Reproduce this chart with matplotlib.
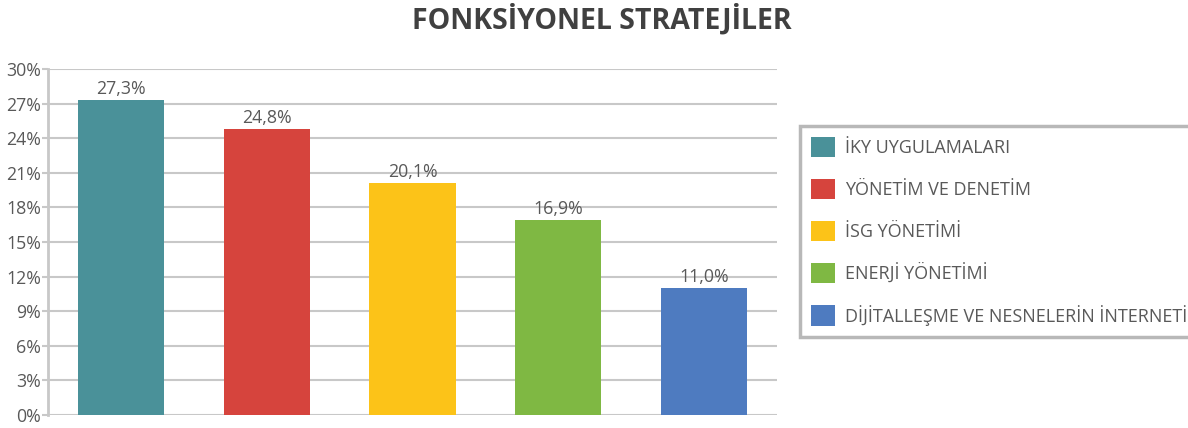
import matplotlib
matplotlib.use("Agg")
import matplotlib.pyplot as plt
from matplotlib.patches import Patch

categories = ["İKY UYGULAMALARI", "YÖNETİM VE DENETİM", "İSG YÖNETİMİ",
              "ENERJİ YÖNETİMİ", "DİJİTALLEŞME VE NESNELERİN İNTERNETİ"]
values = [27.3, 24.8, 20.1, 16.9, 11.0]
colors = ["#4A9199", "#D6443D", "#FCC318", "#7FB843", "#4E7BC0"]
yticks = [0, 3, 6, 9, 12, 15, 18, 21, 24, 27, 30]

plt.rcParams["font.family"] = ["Open Sans", "DejaVu Sans"]
text_color = "#595959"
grid_color = "#C8C8C8"

fig = plt.figure(figsize=(11.88, 4.28), dpi=100)
ax = fig.add_axes([48 / 1188, 13 / 428, (777 - 48) / 1188, (415 - 69) / 428])

x = list(range(len(values)))
bars = ax.bar(x, values, width=0.59, color=colors, zorder=3)
for b, v in zip(bars, values):
    ax.text(b.get_x() + b.get_width() / 2, v + 0.2, f"{v:.1f}%".replace(".", ","),
            ha="center", va="bottom", fontsize=12.8, color=text_color)

ax.set_xlim(-0.5, 4.5)
ax.set_ylim(0, 30)
ax.set_yticks(yticks)
ax.set_yticklabels([f"{t}%" for t in yticks], fontsize=12.8, color=text_color)
ax.set_xticks([])
ax.yaxis.grid(True, color=grid_color, linewidth=1.5, zorder=0)
ax.tick_params(axis="y", length=4, width=1.5, color=grid_color, pad=1)
for s in ["top", "right", "bottom"]:
    ax.spines[s].set_visible(False)
ax.spines["left"].set_color(grid_color)
ax.spines["left"].set_linewidth(2)

fig.suptitle("FONKSİYONEL STRATEJİLER", x=602 / 1188, y=0.99, fontsize=20.5,
             fontweight="bold", color="#404040")

handles = [Patch(facecolor=c, edgecolor="none") for c in colors]
leg = fig.legend(handles, categories, loc="upper left",
                 bbox_to_anchor=(800 / 1188, 1 - 126 / 428),
                 fontsize=13, frameon=True, fancybox=False,
                 handlelength=1.35, handleheight=1.35, labelspacing=1.2,
                 handletextpad=0.55, borderpad=0.6, borderaxespad=0)
for t in leg.get_texts():
    t.set_color(text_color)
leg.get_frame().set_edgecolor("#A6A6A6")
leg.get_frame().set_linewidth(2.5)

fig.savefig("out.png", dpi=100)
